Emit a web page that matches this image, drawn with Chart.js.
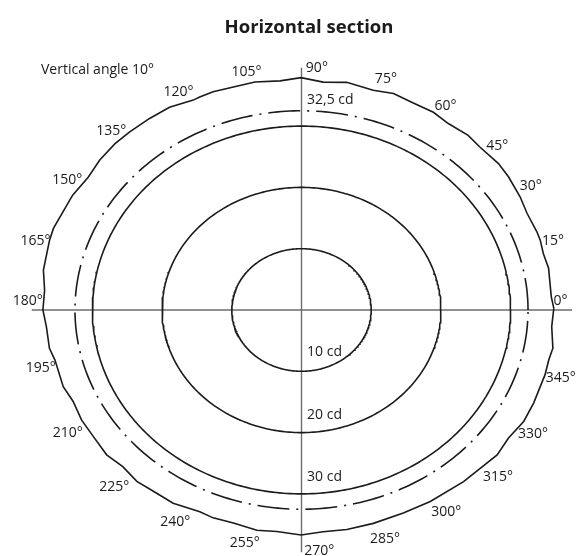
<!DOCTYPE html>
<html><head><meta charset="utf-8">
<script src="https://cdn.jsdelivr.net/npm/chart.js@4"></script>
<style>html,body{margin:0;padding:0;background:#fff}canvas{display:block}</style>
</head><body>
<canvas id="c" width="576" height="556"></canvas>
<script>
// ---- data (polar: angle in degrees, luminous intensity in cd) ----
const outerAngles = [0.4,3.5,10.9,14.9,18.4,20.7,26.0,30.5,36.2,40.2,46.1,50.0,55.3,59.6,65.0,69.5,74.0,80.1,85.2,90.1,94.7,100.2,109.6,112.8,114.4,119.8,124.9,130.3,134.6,139.8,144.7,150.3,159.5,162.5,170.0,175.0,180.0,184.3,189.8,193.0,200.1,204.5,209.6,214.6,220.2,224.9,229.8,235.2,239.7,246.1,249.5,254.3,259.9,264.4,269.9,274.9,280.3,286.5,293.8,300.6,309.7,319.9,324.9,330.3,335.5,343.2,347.1,350.2,355.7];
const outerValues = [36.2,35.9,36.1,35.9,36.1,36.1,36.0,36.4,36.8,37.0,36.9,37.2,37.0,37.4,37.4,37.7,37.3,37.7,37.3,37.9,37.5,37.8,37.8,37.7,37.6,38.1,38.1,38.1,38.1,37.9,37.5,37.8,38.0,37.9,37.6,37.0,37.1,36.7,36.7,36.3,36.4,36.0,36.3,36.3,36.6,36.2,36.6,36.4,36.5,36.0,36.2,36.1,36.5,36.3,36.7,36.3,36.4,36.3,36.2,36.3,36.4,36.7,36.3,36.7,36.6,36.5,36.4,36.6,36.0];
const ringValues = [10, 20, 30];
const dashedRingValue = 32.5;
const angleTicks = [0,15,30,45,60,75,90,105,120,135,150,165,180,195,210,225,240,255,270,285,300,315,330,345];
const valueLabels = ['10 cd','20 cd','30 cd','32,5 cd'];
const titleText = 'Horizontal section';
const subtitleText = 'Vertical angle 10°';

// ---- layout (label anchors in polar/cd space, not data) ----
const angleLabelPos = [[2.3,37.2],[17.3,37.8],[31.6,38.6],[43.6,38.8],[58.2,39.2],[72.2,39.6],[86.8,39.5],[101.5,39.6],[116.4,39.7],[133,40.0],[147.8,39.7],[163.6,39.8],[177.8,39.3],[194.3,38.6],[210.9,39.1],[227,39.4],[242.3,39.0],[257.9,38.9],[273.7,39.4],[287.8,39.2],[302.2,39.0],[316,39.2],[328.6,38.9],[343.4,38.8]];
const valueLabelPos = [[0.8,-6.85],[0.8,-17.2],[0.8,-27.3],[0.8,34.2]];

const rad = d => d * Math.PI / 180;
const toXY = (a, r) => ({x: r * Math.cos(rad(a)), y: r * Math.sin(rad(a))});
const ring = v => { const p = []; for (let a = 0; a <= 360; a += 1) p.push(toXY(a, v)); return p; };
const outerPts = outerAngles.map((a, i) => toXY(a, outerValues[i]));
outerPts.push(outerPts[0]);

const FONT = "'Open Sans', 'DejaVu Sans', sans-serif";
const lineColor = '#1b1b1b';

const decor = {
  id: 'decor',
  beforeDatasetsDraw(chart) {
    const {ctx, scales: {x, y}} = chart;
    ctx.save();
    ctx.strokeStyle = '#6e6e6e';
    ctx.lineWidth = 1.4;
    ctx.beginPath();
    ctx.moveTo(x.getPixelForValue(-38.7), y.getPixelForValue(0));
    ctx.lineTo(x.getPixelForValue(38.8), y.getPixelForValue(0));
    ctx.moveTo(x.getPixelForValue(0), y.getPixelForValue(39.5));
    ctx.lineTo(x.getPixelForValue(0), y.getPixelForValue(-39.5));
    ctx.stroke();
    ctx.restore();
  },
  afterDatasetsDraw(chart) {
    const {ctx, scales: {x, y}} = chart;
    ctx.save();
    ctx.fillStyle = '#1b1b1b';
    ctx.textAlign = 'center';
    ctx.textBaseline = 'middle';
    ctx.font = "bold 18.5px " + FONT;
    ctx.fillText(titleText, 309, 28);
    ctx.font = "14px " + FONT;
    ctx.textAlign = 'left';
    ctx.fillText(subtitleText, 41, 70);
    ctx.textAlign = 'center';
    angleTicks.forEach((t, i) => {
      const [a, r] = angleLabelPos[i];
      const p = toXY(a, r);
      ctx.fillText(t + '°', x.getPixelForValue(p.x), y.getPixelForValue(p.y));
    });
    ctx.textAlign = 'left';
    valueLabels.forEach((t, i) => {
      const [px, py] = valueLabelPos[i];
      ctx.fillText(t, x.getPixelForValue(px), y.getPixelForValue(py));
    });
    ctx.restore();
  }
};

const lineDs = (data, extra) => Object.assign({data, showLine: true, borderColor: lineColor, borderWidth: 1.6, pointRadius: 0, tension: 0, fill: false}, extra || {});

new Chart(document.getElementById('c'), {
  type: 'scatter',
  data: {
    datasets: [
      lineDs(outerPts),
      lineDs(ring(dashedRingValue), {borderDash: [32, 7, 2, 7]}),
      ...ringValues.map(v => lineDs(ring(v)))
    ]
  },
  options: {
    responsive: false,
    animation: false,
    layout: {padding: 0},
    plugins: {legend: {display: false}, tooltip: {enabled: false}, title: {display: false}},
    scales: {
      x: {type: 'linear', display: false, min: -301.5 / 6.97, max: 274.5 / 6.97},
      y: {type: 'linear', display: false, min: -246 / 6.13, max: 310 / 6.13}
    }
  },
  plugins: [decor]
});
</script>
</body></html>
